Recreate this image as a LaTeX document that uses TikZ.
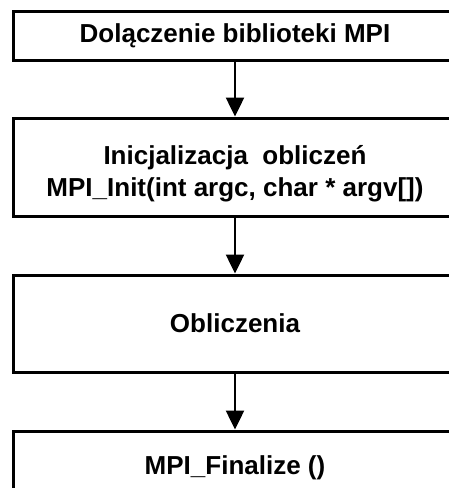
\documentclass[tikz,border=0pt]{standalone}
\usepackage{fontspec}
\setmainfont{Liberation Sans}
\usetikzlibrary{arrows.meta}
\begin{document}
\begin{tikzpicture}[x=1pt,y=-1pt,
  stagebox/.style={draw=black, line width=3pt, rectangle, minimum width=444pt,
    inner sep=0pt, align=center, font=\fontsize{26}{32}\selectfont\bfseries},
  flow/.style={line width=2.5pt, -{Triangle[width=18pt,length=19pt]}}]
  \useasboundingbox (0,0) rectangle (449,488);
  \clip (0,0) rectangle (449,488);
  % program stages, top to bottom
  \node[stagebox, minimum height=49pt] (incl) at (235,35.5) {Dolączenie biblioteki MPI};
  \node[stagebox, minimum height=98pt] (init) at (235,167) {\rule{0pt}{32pt}Inicjalizacja\ \ obliczeń\\MPI\_Init(int argc, char * argv[])};
  \node[stagebox, minimum height=97pt] (comp) at (235,323.5) {Obliczenia};
  \node[stagebox, minimum height=74pt] (fin) at (235,468) {MPI\_Finalize ()};
  % connectors
  \draw[flow] (incl.south) -- (init.north);
  \draw[flow] (init.south) -- (comp.north);
  \draw[flow] (comp.south) -- (fin.north);
\end{tikzpicture}
\end{document}
